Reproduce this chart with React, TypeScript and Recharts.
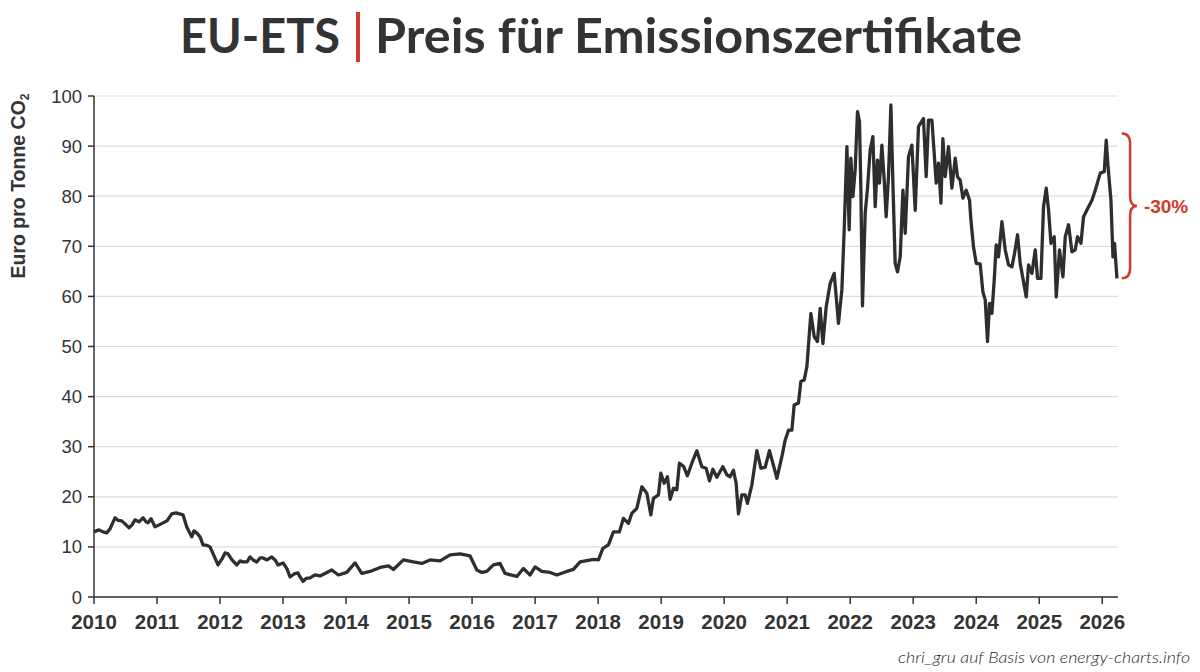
import { CartesianGrid, Line, LineChart, ReferenceArea, XAxis, YAxis } from "recharts";

// decimal years
const dates = [
  2010.0, 2010.079, 2010.143, 2010.202, 2010.254, 2010.333, 2010.381, 2010.44, 2010.492, 2010.556, 2010.603, 2010.651, 2010.714, 2010.778, 2010.825, 2010.857, 2010.905, 2010.968,
  2011.032, 2011.095, 2011.159, 2011.233, 2011.302, 2011.413, 2011.471, 2011.551, 2011.587, 2011.63, 2011.683, 2011.73, 2011.794, 2011.841, 2011.905, 2011.968,
  2012.032, 2012.079, 2012.127, 2012.19, 2012.265, 2012.317, 2012.365, 2012.429, 2012.476, 2012.524, 2012.583, 2012.635, 2012.683, 2012.746, 2012.821, 2012.873, 2012.921,
  2013.0, 2013.063, 2013.111, 2013.175, 2013.238, 2013.27, 2013.317, 2013.365, 2013.429, 2013.508, 2013.587, 2013.773, 2013.878,
  2014.011, 2014.143, 2014.249, 2014.381, 2014.54, 2014.671, 2014.751, 2014.91,
  2015.068, 2015.202, 2015.333, 2015.492, 2015.651, 2015.81, 2015.968,
  2016.075, 2016.154, 2016.233, 2016.338, 2016.444, 2016.524, 2016.71, 2016.814, 2016.921,
  2017.0, 2017.106, 2017.238, 2017.344, 2017.503, 2017.608, 2017.714, 2017.925,
  2018.005, 2018.075, 2018.163, 2018.243, 2018.338, 2018.402, 2018.481, 2018.535, 2018.614, 2018.694, 2018.773, 2018.837, 2018.878, 2018.957, 2018.995,
  2019.048, 2019.1, 2019.143, 2019.195, 2019.249, 2019.29, 2019.354, 2019.417, 2019.487, 2019.567, 2019.646, 2019.714, 2019.767, 2019.821, 2019.884, 2019.979,
  2020.043, 2020.095, 2020.148, 2020.19, 2020.227, 2020.281, 2020.333, 2020.37, 2020.44, 2020.519, 2020.583, 2020.651, 2020.719, 2020.773, 2020.837, 2020.916, 2020.968,
  2021.021, 2021.075, 2021.111, 2021.179, 2021.217, 2021.27, 2021.313, 2021.376, 2021.429, 2021.481, 2021.524, 2021.567, 2021.619, 2021.683, 2021.746, 2021.789, 2021.814, 2021.868, 2021.905, 2021.948, 2021.984,
  2022.011, 2022.043, 2022.079, 2022.116, 2022.148, 2022.17, 2022.195, 2022.238, 2022.275, 2022.317, 2022.36, 2022.397, 2022.433, 2022.465, 2022.503, 2022.54, 2022.571, 2022.608, 2022.646, 2022.678, 2022.714, 2022.751, 2022.794, 2022.837, 2022.873, 2022.925, 2022.979,
  2023.032, 2023.084, 2023.163, 2023.206, 2023.243, 2023.297, 2023.333, 2023.365, 2023.402, 2023.44, 2023.471, 2023.508, 2023.56, 2023.614, 2023.667, 2023.703, 2023.746, 2023.789, 2023.841, 2023.894, 2023.916, 2023.957,
  2024.0, 2024.063, 2024.106, 2024.143, 2024.179, 2024.211, 2024.249, 2024.286, 2024.317, 2024.354, 2024.408, 2024.46, 2024.513, 2024.567, 2024.608, 2024.656, 2024.698, 2024.741, 2024.794, 2024.83, 2024.884, 2024.937, 2024.973,
  2025.027, 2025.068, 2025.111, 2025.148, 2025.186, 2025.238, 2025.27, 2025.322, 2025.376, 2025.413, 2025.465, 2025.519, 2025.571, 2025.608, 2025.662, 2025.703, 2025.783, 2025.837, 2025.889, 2025.968,
  2026.032, 2026.063, 2026.09, 2026.138, 2026.17, 2026.195, 2026.233,
];

// Euro pro Tonne CO2
const prices = [
  13.0, 13.4, 13.0, 12.8, 13.6, 15.8, 15.3, 15.2, 14.6, 13.8, 14.4, 15.4, 15.0, 15.8, 15.0, 14.8, 15.6, 14.0,
  14.4, 14.8, 15.2, 16.6, 16.8, 16.4, 14.0, 12.0, 13.2, 12.8, 12.0, 10.4, 10.3, 10.0, 8.2, 6.4,
  7.6, 8.8, 8.6, 7.4, 6.4, 7.2, 7.0, 7.0, 8.0, 7.4, 7.0, 7.8, 7.8, 7.4, 8.0, 7.4, 6.4,
  6.8, 5.6, 4.0, 4.6, 4.8, 4.0, 3.1, 3.7, 3.8, 4.4, 4.2, 5.4, 4.4,
  4.9, 6.8, 4.7, 5.1, 5.9, 6.2, 5.5, 7.4,
  7.0, 6.7, 7.4, 7.2, 8.4, 8.6, 8.2,
  5.4, 4.9, 5.1, 6.4, 6.7, 4.7, 4.1, 5.7, 4.4,
  6.0, 5.1, 4.9, 4.4, 5.1, 5.5, 7.0, 7.5,
  7.4, 9.7, 10.4, 13.0, 13.0, 15.7, 14.7, 16.7, 17.7, 22.0, 20.7, 16.4, 19.7, 20.4, 24.7,
  22.7, 24.0, 19.5, 21.7, 21.4, 26.7, 26.1, 24.2, 26.7, 29.2, 26.0, 25.7, 23.2, 25.5, 23.9, 26.0,
  24.4, 24.0, 25.3, 22.7, 16.6, 20.4, 20.4, 18.7, 22.4, 29.2, 25.7, 25.9, 29.2, 26.7, 23.7, 28.0, 31.3,
  33.3, 33.3, 38.3, 38.7, 43.0, 43.3, 46.0, 56.6, 52.0, 51.0, 57.6, 50.6, 57.9, 62.6, 64.6, 58.3, 54.6, 61.3, 73.3, 89.9, 73.3,
  87.6, 79.9, 85.2, 96.9, 94.9, 81.2, 58.1, 76.6, 81.6, 89.2, 91.9, 77.9, 87.2, 82.6, 90.2, 83.2, 75.9, 83.9, 98.2, 82.6, 66.6, 64.9, 67.9, 81.2, 72.6, 87.9, 90.2,
  77.2, 93.9, 95.5, 83.9, 95.2, 95.2, 88.6, 82.6, 86.6, 78.6, 91.5, 83.9, 89.9, 81.6, 87.6, 83.9, 83.2, 79.6, 81.2, 79.2, 75.2, 69.9,
  66.6, 66.5, 60.9, 59.3, 51.0, 58.6, 56.6, 63.3, 70.3, 67.9, 74.9, 69.3, 66.3, 65.9, 68.6, 72.3, 66.6, 63.6, 59.9, 66.3, 64.6, 69.3, 63.6,
  63.6, 77.9, 81.6, 77.2, 70.6, 71.9, 59.9, 69.3, 63.9, 71.9, 74.3, 68.9, 69.3, 71.9, 70.6, 75.9, 77.9, 79.2, 81.2, 84.6,
  84.9, 91.2, 86.2, 79.2, 67.9, 70.6, 63.6,
];

const yearTicks = [2010, 2011, 2012, 2013, 2014, 2015, 2016, 2017, 2018, 2019, 2020, 2021, 2022, 2023, 2024, 2025, 2026];
const priceTicks = [0, 10, 20, 30, 40, 50, 60, 70, 80, 90, 100];

// bracket from the recent high to the latest value
const braceHigh = 92.5;
const braceLow = 63.6;
const braceLabel = "-30%";

const data = dates.map((t, i) => ({ t, price: prices[i] }));

const INK = "#333333";
const RED = "#d0392b";
const SANS = "'Liberation Sans', Arial, sans-serif";
const TITLE_FONT = "Lato, 'Open Sans', sans-serif";

function Brace(props: any) {
  const { x, y, width, height } = props;
  const a = width * 0.55;
  const r = 10;
  const ym = y + height / 2;
  const d = [
    `M ${x} ${y}`,
    `Q ${x + a} ${y} ${x + a} ${y + r}`,
    `L ${x + a} ${ym - r}`,
    `Q ${x + a} ${ym} ${x + width} ${ym}`,
    `Q ${x + a} ${ym} ${x + a} ${ym + r}`,
    `L ${x + a} ${y + height - r}`,
    `Q ${x + a} ${y + height} ${x} ${y + height}`,
  ].join(" ");
  return (
    <g>
      <path d={d} fill="none" stroke={RED} strokeWidth={2.5} />
      <text
        x={x + width + 7}
        y={ym + 7}
        fill={RED}
        fontFamily={SANS}
        fontWeight="bold"
        fontSize={19}
      >
        {braceLabel}
      </text>
    </g>
  );
}

export default function App() {
  return (
    <div
      style={{
        position: "absolute",
        left: 0,
        top: 0,
        width: 1200,
        height: 672,
        background: "#fff",
      }}
    >
      <LineChart
        width={1200}
        height={672}
        data={data}
        margin={{ top: 96, right: 82, left: 34, bottom: 35 }}
      >
        <CartesianGrid vertical={false} stroke="#dddddd" strokeWidth={1.2} />
        <XAxis
          dataKey="t"
          type="number"
          domain={[2010, 2026.25]}
          ticks={yearTicks}
          tickFormatter={(v) => String(Math.round(v))}
          interval={0}
          height={40}
          tickSize={7}
          tickMargin={10}
          axisLine={{ stroke: INK, strokeWidth: 1.5 }}
          tickLine={{ stroke: INK, strokeWidth: 1.5 }}
          tick={{ fill: INK, fontSize: 20.5, fontWeight: "bold", fontFamily: SANS }}
        />
        <YAxis
          type="number"
          domain={[0, 100]}
          ticks={priceTicks}
          interval={0}
          width={60}
          tickSize={6}
          tickMargin={6}
          axisLine={{ stroke: INK, strokeWidth: 1.5 }}
          tickLine={{ stroke: INK, strokeWidth: 1.5 }}
          tick={{ fill: INK, fontSize: 18.5, fontFamily: SANS }}
        />
        <ReferenceArea
          x1={2026.31}
          x2={2026.55}
          y1={braceLow}
          y2={braceHigh}
          ifOverflow="visible"
          shape={<Brace />}
        />
        <Line
          type="linear"
          dataKey="price"
          stroke="#2e2e2e"
          strokeWidth={3.3}
          dot={false}
          strokeLinejoin="round"
          isAnimationActive={false}
        />
      </LineChart>

      <svg
        width={1200}
        height={672}
        style={{ position: "absolute", left: 0, top: 0, pointerEvents: "none" }}
      >
        <text
          x={180}
          y={53}
          fill={INK}
          fontFamily={TITLE_FONT}
          fontWeight="bold"
          fontSize={48}
          textLength={160}
          lengthAdjust="spacingAndGlyphs"
        >
          EU-ETS
        </text>
        <rect x={356} y={12} width={4} height={50} fill={RED} />
        <text
          x={375}
          y={53}
          fill={INK}
          fontFamily={TITLE_FONT}
          fontWeight="bold"
          fontSize={48}
          textLength={647}
          lengthAdjust="spacingAndGlyphs"
        >
          Preis für Emissionszertifikate
        </text>
        <text
          transform="translate(25 186) rotate(-90)"
          textAnchor="middle"
          fill={INK}
          fontFamily={SANS}
          fontWeight="bold"
          fontSize={19.5}
        >
          Euro pro Tonne CO
          <tspan fontSize={12} dy={4}>
            2
          </tspan>
        </text>
        <text
          x={1190}
          y={663}
          textAnchor="end"
          fill="#2a2a2a"
          fontFamily={TITLE_FONT}
          fontStyle="italic"
          fontWeight={300}
          fontSize={16}
          textLength={292}
          lengthAdjust="spacingAndGlyphs"
        >
          chri_gru auf Basis von energy-charts.info
        </text>
      </svg>
    </div>
  );
}
